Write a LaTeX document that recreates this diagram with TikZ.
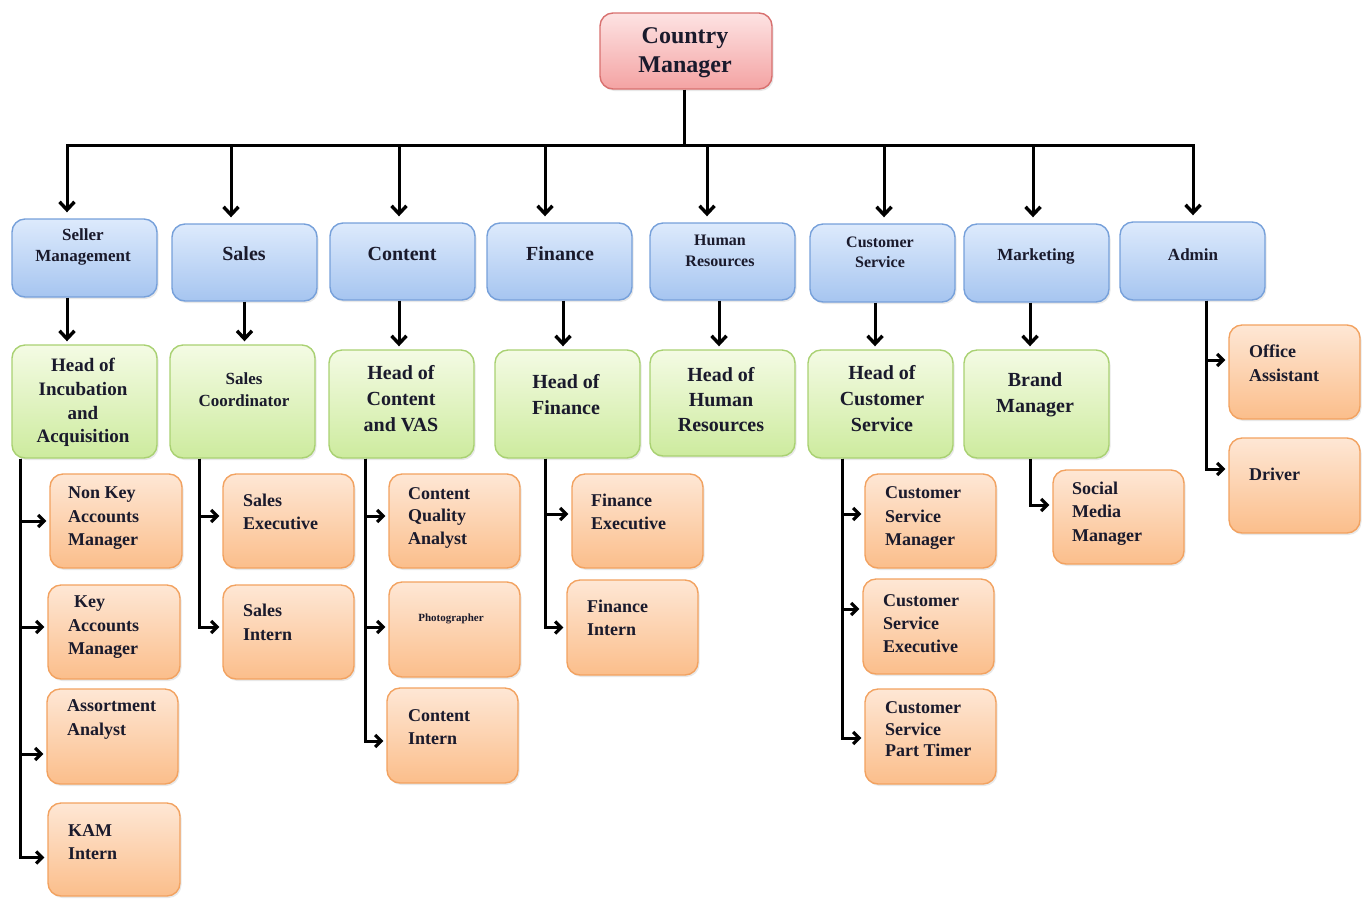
\documentclass[tikz,border=0pt]{standalone}
\usepackage{fontspec}
\setmainfont{Liberation Serif}
\usetikzlibrary{arrows.meta,shadows}
\definecolor{txt}{HTML}{1A1A2C}
\definecolor{blueT}{HTML}{DDEAFC}
\definecolor{blueB}{HTML}{A6C5F0}
\definecolor{blueD}{HTML}{76A0DA}
\definecolor{greenT}{HTML}{F4FBE4}
\definecolor{greenB}{HTML}{CDEB9E}
\definecolor{greenD}{HTML}{A9D172}
\definecolor{oranT}{HTML}{FEE7D5}
\definecolor{oranB}{HTML}{FBBE8B}
\definecolor{oranD}{HTML}{F2A260}
\definecolor{redT}{HTML}{FDE3E3}
\definecolor{redB}{HTML}{F4A3A3}
\definecolor{redD}{HTML}{D8706F}
\tikzset{
  box/.style={rounded corners=13pt, line width=1.4pt, inner sep=0pt,
    drop shadow={opacity=0.18, shadow xshift=1.5pt, shadow yshift=-2pt}},
  bluebox/.style={box, draw=blueD, top color=blueT, bottom color=blueB},
  greenbox/.style={box, draw=greenD, top color=greenT, bottom color=greenB},
  orangebox/.style={box, draw=oranD, top color=oranT, bottom color=oranB},
  redbox/.style={box, draw=redD, top color=redT, bottom color=redB},
  lbl/.style={text=txt, inner sep=0pt, align=center},
  olbl/.style={text=txt, inner sep=0pt, align=left, anchor=west,
    font=\fontsize{18}{23.5}\selectfont\bfseries},
  conn/.style={line width=3pt, draw=black},
  darr/.style={conn, -{Straight Barb[length=8pt,width=15pt,line width=3.4pt]}, shorten >=6pt},
  rarr/.style={conn, -{Straight Barb[length=6pt,width=12pt,line width=3.2pt]}, shorten >=3pt},
}
\newcommand\mybox[6]{%
  \node[#2, minimum width={(#5-#3)*1pt}, minimum height={(#6-#4)*1pt}]
    (#1) at ({(#3+#5)/2},{(#4+#6)/2}) {};}
\begin{document}
\begin{tikzpicture}[x=1pt,y=-1pt]
\useasboundingbox (0,0) rectangle (1370,898);
% boxes
\mybox{cm}{redbox}{600}{13}{772}{89}
\mybox{sm}{bluebox}{12}{219}{157}{297}
\mybox{sa}{bluebox}{172}{224}{317}{301}
\mybox{co}{bluebox}{330}{223}{475}{300}
\mybox{fi}{bluebox}{487}{223}{632}{300}
\mybox{hr}{bluebox}{650}{223}{795}{300}
\mybox{cs}{bluebox}{810}{224}{955}{302}
\mybox{mk}{bluebox}{964}{224}{1109}{302}
\mybox{ad}{bluebox}{1120}{222}{1265}{300}
\mybox{hia}{greenbox}{12}{345}{157}{458}
\mybox{sc}{greenbox}{170}{345}{315}{458}
\mybox{hc}{greenbox}{329}{350}{474}{458}
\mybox{hf}{greenbox}{495}{350}{640}{458}
\mybox{hh}{greenbox}{650}{350}{795}{456}
\mybox{hcs}{greenbox}{808}{350}{953}{458}
\mybox{bm}{greenbox}{964}{350}{1109}{458}
\mybox{nka}{orangebox}{50}{474}{182}{568}
\mybox{kam}{orangebox}{48}{585}{180}{679}
\mybox{aa}{orangebox}{47}{689}{178}{784}
\mybox{ki}{orangebox}{48}{803}{180}{896}
\mybox{se}{orangebox}{223}{474}{354}{568}
\mybox{si}{orangebox}{223}{585}{354}{679}
\mybox{cqa}{orangebox}{389}{474}{520}{568}
\mybox{ph}{orangebox}{389}{582}{520}{677}
\mybox{cin}{orangebox}{387}{688}{518}{783}
\mybox{fe}{orangebox}{572}{474}{703}{568}
\mybox{fin}{orangebox}{567}{580}{698}{675}
\mybox{csm}{orangebox}{865}{474}{996}{568}
\mybox{cse}{orangebox}{863}{579}{994}{674}
\mybox{cspt}{orangebox}{865}{689}{996}{784}
\mybox{smm}{orangebox}{1053}{470}{1184}{564}
\mybox{oa}{orangebox}{1229}{325}{1360}{419}
\mybox{dr}{orangebox}{1229}{438}{1360}{533}
% labels
\node[lbl, font=\fontsize{24}{29}\selectfont\bfseries] (cm-t) at (685,53) {Country\\Manager};
\node[lbl, font=\fontsize{17}{21}\selectfont\bfseries] (sm-t) at (83,247) {Seller\\Management};
\node[lbl, font=\fontsize{20}{24}\selectfont\bfseries] (sa-t) at (244,254) {Sales};
\node[lbl, font=\fontsize{20}{24}\selectfont\bfseries] (co-t) at (402,254) {Content};
\node[lbl, font=\fontsize{20}{24}\selectfont\bfseries] (fi-t) at (560,254) {Finance};
\node[lbl, font=\fontsize{16}{21}\selectfont\bfseries] (hr-t) at (720,251) {Human\\Resources};
\node[lbl, font=\fontsize{16}{20}\selectfont\bfseries] (cs-t) at (880,252.5) {Customer\\Service};
\node[lbl, font=\fontsize{17}{21}\selectfont\bfseries] (mk-t) at (1036,256) {Marketing};
\node[lbl, font=\fontsize{17}{21}\selectfont\bfseries] (ad-t) at (1193,255) {Admin};
\node[lbl, font=\fontsize{19}{23.7}\selectfont\bfseries] (hia-t) at (83,402.5) {Head of\\Incubation\\and\\Acquisition};
\node[lbl, font=\fontsize{17}{22}\selectfont\bfseries] (sc-t) at (244,390) {Sales\\Coordinator};
\node[lbl, font=\fontsize{20}{26}\selectfont\bfseries] (hc-t) at (401,399) {Head of\\Content\\and VAS};
\node[lbl, font=\fontsize{20}{26}\selectfont\bfseries] (hf-t) at (566,395) {Head of\\Finance};
\node[lbl, font=\fontsize{20}{25}\selectfont\bfseries] (hh-t) at (721,400) {Head of\\Human\\Resources};
\node[lbl, font=\fontsize{20}{26}\selectfont\bfseries] (hcs-t) at (882,399) {Head of\\Customer\\Service};
\node[lbl, font=\fontsize{20}{26}\selectfont\bfseries] (bm-t) at (1035,395) {Brand\\Manager};
\node[olbl] (nka-t) at (68,518.5) {Non Key\\Accounts\\Manager};
\node[olbl] (kam-t) at (68,627.5) {\hspace{6pt}Key\\Accounts\\Manager};
\node[olbl] (aa-t) at (67,719.5) {Assortment\\Analyst};
\node[olbl] (ki-t) at (68,842) {KAM\\Intern};
\node[olbl] (se-t) at (243,512) {Sales\\Executive};
\node[olbl] (si-t) at (243,622.5) {Sales\\Intern};
\node[olbl, font=\fontsize{18}{22.5}\selectfont\bfseries] (cqa-t) at (408,517.5) {Content\\Quality\\Analyst};
\node[lbl, font=\fontsize{11}{13}\selectfont\bfseries] (ph-t) at (451,618.5) {Photographer};
\node[olbl] (cin-t) at (408,727) {Content\\Intern};
\node[olbl] (fe-t) at (591,512) {Finance\\Executive};
\node[olbl] (fin-t) at (587,618) {Finance\\Intern};
\node[olbl] (csm-t) at (885,518.5) {Customer\\Service\\Manager};
\node[olbl, font=\fontsize{18}{23}\selectfont\bfseries] (cse-t) at (883,624) {Customer\\Service\\Executive};
\node[olbl, font=\fontsize{18}{21.5}\selectfont\bfseries] (cspt-t) at (885,729.5) {Customer\\Service\\Part Timer};
\node[olbl] (smm-t) at (1072,513.5) {Social\\Media\\Manager};
\node[olbl] (oa-t) at (1249,363) {Office\\Assistant};
\node[olbl] (dr-t) at (1249,474) {Driver};
% bus
\coordinate (bL) at (67,145);
\coordinate (bR) at (1193,145);
\draw[conn] ([xshift=-2pt]cm.south) -- ([xshift=-2pt]cm.south |- bL);
\draw[conn, line cap=rect] (bL) -- (bR);
\coordinate (b1) at (67,145);
\coordinate (b2) at (231,145);
\coordinate (b3) at (399,145);
\coordinate (b4) at (545,145);
\coordinate (b5) at (707,145);
\coordinate (b6) at (884,145);
\coordinate (b7) at (1033,145);
\coordinate (b8) at (1193,145);
\draw[darr] (b1) -- (b1 |- sm.north);
\draw[darr] (b2) -- (b2 |- sa.north);
\draw[darr] (b3) -- (b3 |- co.north);
\draw[darr] (b4) -- (b4 |- fi.north);
\draw[darr] (b5) -- (b5 |- hr.north);
\draw[darr] (b6) -- (b6 |- cs.north);
\draw[darr] (b7) -- (b7 |- mk.north);
\draw[darr] (b8) -- (b8 |- ad.north);
% blue to green
\draw[darr, shorten >=3pt] ([xshift=-17.5pt]sm.south) -- ([xshift=-17.5pt]sm.south |- hia.north);
\draw[darr, shorten >=3pt] (sa.south) -- (sa.south |- sc.north);
\draw[darr, shorten >=3pt] ([xshift=-3.5pt]co.south) -- ([xshift=-3.5pt]co.south |- hc.north);
\draw[darr, shorten >=3pt] ([xshift=3.5pt]fi.south) -- ([xshift=3.5pt]fi.south |- hf.north);
\draw[darr, shorten >=3pt] ([xshift=-3.5pt]hr.south) -- ([xshift=-3.5pt]hr.south |- hh.north);
\draw[darr, shorten >=3pt] ([xshift=-7.5pt]cs.south) -- ([xshift=-7.5pt]cs.south |- hcs.north);
\draw[darr, shorten >=3pt] ([xshift=-6.5pt]mk.south) -- ([xshift=-6.5pt]mk.south |- bm.north);
% children
\draw[rarr] ([xshift=-64.5pt]hia.south) |- (nka.west);
\draw[rarr] ([xshift=-64.5pt]hia.south) |- ([yshift=5pt]kam.west);
\draw[rarr] ([xshift=-64.5pt]hia.south) |- ([yshift=-17.5pt]aa.west);
\draw[rarr] ([xshift=-64.5pt]hia.south) |- ([yshift=-8pt]ki.west);
\draw[rarr] ([xshift=-43.5pt]sc.south) |- ([yshift=5pt]se.west);
\draw[rarr] ([xshift=-43.5pt]sc.south) |- ([yshift=5pt]si.west);
\draw[rarr] ([xshift=-36.5pt]hc.south) |- ([yshift=5pt]cqa.west);
\draw[rarr] ([xshift=-36.5pt]hc.south) |- ([yshift=2.5pt]ph.west);
\draw[rarr] ([xshift=-36.5pt]hc.south) |- ([yshift=-5.5pt]cin.west);
\draw[rarr] ([xshift=-22.5pt]hf.south) |- ([yshift=7pt]fe.west);
\draw[rarr] ([xshift=-22.5pt]hf.south) |- (fin.west);
\draw[rarr] ([xshift=-38.5pt]hcs.south) |- ([yshift=7pt]csm.west);
\draw[rarr] ([xshift=-38.5pt]hcs.south) |- ([yshift=17.5pt]cse.west);
\draw[rarr] ([xshift=-38.5pt]hcs.south) |- ([yshift=-1.5pt]cspt.west);
\draw[rarr] ([xshift=-6.5pt]bm.south) |- ([yshift=12pt]smm.west);
\draw[rarr] ([xshift=13.5pt]ad.south) |- ([yshift=12pt]oa.west);
\draw[rarr] ([xshift=13.5pt]ad.south) |- ([yshift=16.5pt]dr.west);
\end{tikzpicture}
\end{document}
